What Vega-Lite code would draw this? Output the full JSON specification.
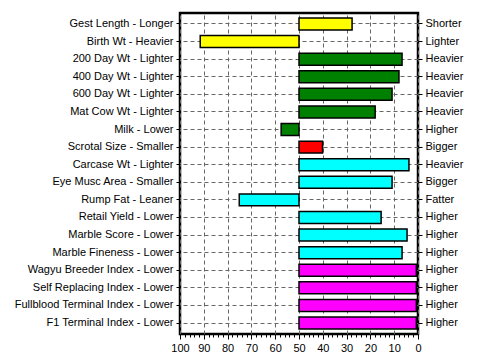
{
  "$schema": "https://vega.github.io/schema/vega-lite/v6.json",
  "width": 238,
  "height": 321,
  "autosize": "none",
  "padding": {"left": 180, "top": 13, "right": 68, "bottom": 27},
  "background": "white",
  "config": {
    "view": {"stroke": "black", "strokeWidth": 2.5},
    "axis": {
      "labelFont": "Liberation Sans",
      "labelFontSize": 11,
      "labelColor": "black",
      "tickColor": "black",
      "domain": false,
      "gridColor": "#666666",
      "gridDash": [4, 3],
      "gridWidth": 1
    }
  },
  "data": {
    "values": [
      {"left": "Gest Length - Longer", "right": "Shorter", "value": 27.7, "color": "#ffff00"},
      {"left": "Birth Wt - Heavier", "right": "Lighter", "value": 91.5, "color": "#ffff00"},
      {"left": "200 Day Wt - Lighter", "right": "Heavier", "value": 6.7, "color": "#008000"},
      {"left": "400 Day Wt - Lighter", "right": "Heavier ", "value": 8, "color": "#008000"},
      {"left": "600 Day Wt - Lighter", "right": "Heavier  ", "value": 10.9, "color": "#008000"},
      {"left": "Mat Cow Wt - Lighter", "right": "Heavier   ", "value": 18, "color": "#008000"},
      {"left": "Milk - Lower", "right": "Higher", "value": 57.5, "color": "#008000"},
      {"left": "Scrotal Size - Smaller", "right": "Bigger", "value": 40.1, "color": "#ff0000"},
      {"left": "Carcase Wt - Lighter", "right": "Heavier    ", "value": 3.8, "color": "#00ffff"},
      {"left": "Eye Musc Area - Smaller", "right": "Bigger ", "value": 10.9, "color": "#00ffff"},
      {"left": "Rump Fat - Leaner", "right": "Fatter", "value": 75.1, "color": "#00ffff"},
      {"left": "Retail Yield - Lower", "right": "Higher ", "value": 15.5, "color": "#00ffff"},
      {"left": "Marble Score - Lower", "right": "Higher  ", "value": 4.6, "color": "#00ffff"},
      {"left": "Marble Fineness - Lower", "right": "Higher   ", "value": 6.7, "color": "#00ffff"},
      {"left": "Wagyu Breeder Index - Lower", "right": "Higher    ", "value": 0.7, "color": "#ff00ff"},
      {"left": "Self Replacing Index - Lower", "right": "Higher     ", "value": 0.7, "color": "#ff00ff"},
      {"left": "Fullblood Terminal Index - Lower", "right": "Higher      ", "value": 0.7, "color": "#ff00ff"},
      {"left": "F1 Terminal Index - Lower", "right": "Higher       ", "value": 0.7, "color": "#ff00ff"}
    ]
  },
  "layer": [
    {
      "mark": {"type": "bar", "stroke": "black", "strokeWidth": 1.5},
      "encoding": {
        "y": {
          "field": "left", "type": "nominal", "sort": null,
          "scale": {"type": "band", "paddingInner": 0.32, "paddingOuter": 0.285},
          "axis": {"title": null, "orient": "left", "grid": true, "tickSize": 4, "labelPadding": 3}
        },
        "x": {
          "field": "value", "type": "quantitative",
          "scale": {"domain": [0, 100], "reverse": true, "nice": false},
          "axis": {
            "title": null,
            "values": [0,2,4,6,8,10,12,14,16,18,20,22,24,26,28,30,32,34,36,38,40,42,44,46,48,50,52,54,56,58,60,62,64,66,68,70,72,74,76,78,80,82,84,86,88,90,92,94,96,98,100],
            "labelExpr": "datum.value % 10 === 0 ? datum.label : ''",
            "tickSize": {"condition": {"test": "datum.value % 10 === 0", "value": 5}, "value": 3},
            "gridOpacity": {"condition": {"test": "datum.value % 10 === 0", "value": 1}, "value": 0},
            "grid": true,
            "labelPadding": 3,
            "labelFlush": false,
            "labelOverlap": false
          }
        },
        "x2": {"datum": 50},
        "color": {"field": "color", "type": "nominal", "scale": null}
      }
    },
    {
      "mark": {"type": "bar", "opacity": 0},
      "encoding": {
        "y": {
          "field": "right", "type": "nominal", "sort": null,
          "scale": {"type": "band", "paddingInner": 0.32, "paddingOuter": 0.285},
          "axis": {"title": null, "orient": "right", "grid": false, "tickSize": 4, "labelPadding": 3}
        }
      }
    }
  ],
  "resolve": {"scale": {"y": "independent"}}
}
